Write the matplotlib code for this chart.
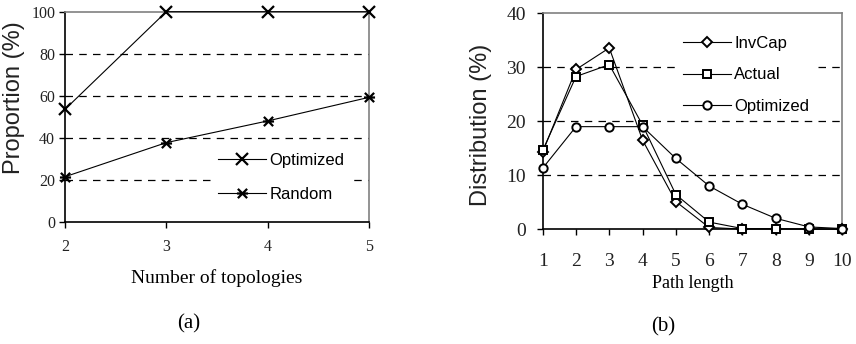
import matplotlib
matplotlib.use("Agg")
import matplotlib.pyplot as plt
from matplotlib.path import Path

# (a) proportion vs number of topologies
topo = [2, 3, 4, 5]
opt_a = [53.6, 100, 100, 100]
rand_a = [21.6, 37.8, 48.1, 59.3]

# (b) path length distribution
plen = [1, 2, 3, 4, 5, 6, 7, 8, 9, 10]
invcap = [14.3, 29.6, 33.6, 16.5, 5.1, 0.3, 0.0, 0.0, 0.0, 0.0]
actual = [14.6, 28.3, 30.5, 19.3, 6.4, 1.3, 0.1, 0.1, 0.0, 0.0]
opt_b = [11.3, 19.0, 19.0, 19.0, 13.1, 8.0, 4.6, 2.0, 0.4, 0.1]

serif = ['Liberation Serif', 'DejaVu Serif']
sans = ['Liberation Sans', 'DejaVu Sans']

# x with a horizontal bar through it
star = Path([(-1, -1), (1, 1), (-1, 1), (1, -1), (-1.2, 0), (1.2, 0)],
            [Path.MOVETO, Path.LINETO, Path.MOVETO, Path.LINETO, Path.MOVETO, Path.LINETO])

fig = plt.figure(figsize=(8.56, 3.44), dpi=100)


def style_axes(ax, fs, xpad, ypad):
    for s in ['top', 'right']:
        ax.spines[s].set_color('#808080')
        ax.spines[s].set_linewidth(1.2)
    for s in ['left', 'bottom']:
        ax.spines[s].set_color('black')
        ax.spines[s].set_linewidth(1.2)
    ax.tick_params(direction='out', length=4, width=1, colors='black')
    ax.tick_params(axis='x', pad=xpad)
    ax.tick_params(axis='y', pad=ypad)
    for t in ax.get_xticklabels() + ax.get_yticklabels():
        t.set_fontfamily(serif)
        t.set_fontsize(fs)
        t.set_color('#222222')


# ---- (a)
ax1 = fig.add_axes([0.0759, 0.354, 0.355, 0.612])
for g in [20, 40, 60, 80]:
    ax1.axhline(g, color='black', lw=0.9, dashes=(6, 5), zorder=1)
ax1.plot(topo, opt_a, color='black', lw=0.8, marker='x', ms=8, mew=1.6, label='Optimized', zorder=3, clip_on=False)
ax1.plot(topo, rand_a, color='black', lw=0.8, marker=star, ms=8, mew=1.6, label='Random', zorder=3, clip_on=False)
ax1.set_xlim(2, 5)
ax1.set_ylim(0, 100)
ax1.set_xticks(topo)
ax1.set_yticks([0, 20, 40, 60, 80, 100])
style_axes(ax1, 11.5, 8, 3)
ax1.set_xlabel('Number of topologies', fontfamily=serif, fontsize=14, labelpad=10)
ax1.set_ylabel('Proportion (%)', fontfamily=sans, fontsize=17, color='#222222')
ax1.yaxis.set_label_coords(-0.132, 0.592)
leg1 = ax1.legend(loc='upper left', bbox_to_anchor=(0.487, 0.353), frameon=True, edgecolor='none',
                  facecolor='white', framealpha=1, handlelength=2.9, handletextpad=0.2,
                  labelspacing=1.15, borderpad=0.3, borderaxespad=0, prop={'family': sans, 'size': 12})
leg1.set_zorder(2)
fig.text(0.22, 0.06, '(a)', fontfamily=serif, fontsize=15, ha='center', va='center')

# ---- (b)
ax2 = fig.add_axes([0.634, 0.334, 0.350, 0.627])
for g in [10, 20, 30]:
    ax2.axhline(g, color='black', lw=0.9, dashes=(6, 5), zorder=1)
mk = dict(color='black', lw=0.8, ms=6, mew=1.4, mfc='white', zorder=3, clip_on=False)
ax2.plot(plen, invcap, marker='D', label='InvCap', **{**mk, 'ms': 5.5})
ax2.plot(plen, actual, marker='s', label='Actual', **mk)
ax2.plot(plen, opt_b, marker='o', label='Optimized', **mk)
ax2.set_xlim(1, 10)
ax2.set_ylim(0, 40)
ax2.set_xticks(plen)
ax2.set_yticks([0, 10, 20, 30, 40])
style_axes(ax2, 14, 13, 8)
ax2.set_xlabel('Path length', fontfamily=serif, fontsize=13, labelpad=4)
ax2.set_ylabel('Distribution (%)', fontfamily=sans, fontsize=17, color='#222222')
ax2.yaxis.set_label_coords(-0.169, 0.482)
leg2 = ax2.legend(loc='upper left', bbox_to_anchor=(0.45, 0.918), frameon=True, edgecolor='none',
                  facecolor='white', framealpha=1, handlelength=2.9, handletextpad=0.2,
                  labelspacing=0.98, borderpad=0.3, borderaxespad=0, prop={'family': sans, 'size': 12})
leg2.set_zorder(2)
fig.text(0.775, 0.049, '(b)', fontfamily=serif, fontsize=15, ha='center', va='center')

fig.savefig('out.png', dpi=100)
